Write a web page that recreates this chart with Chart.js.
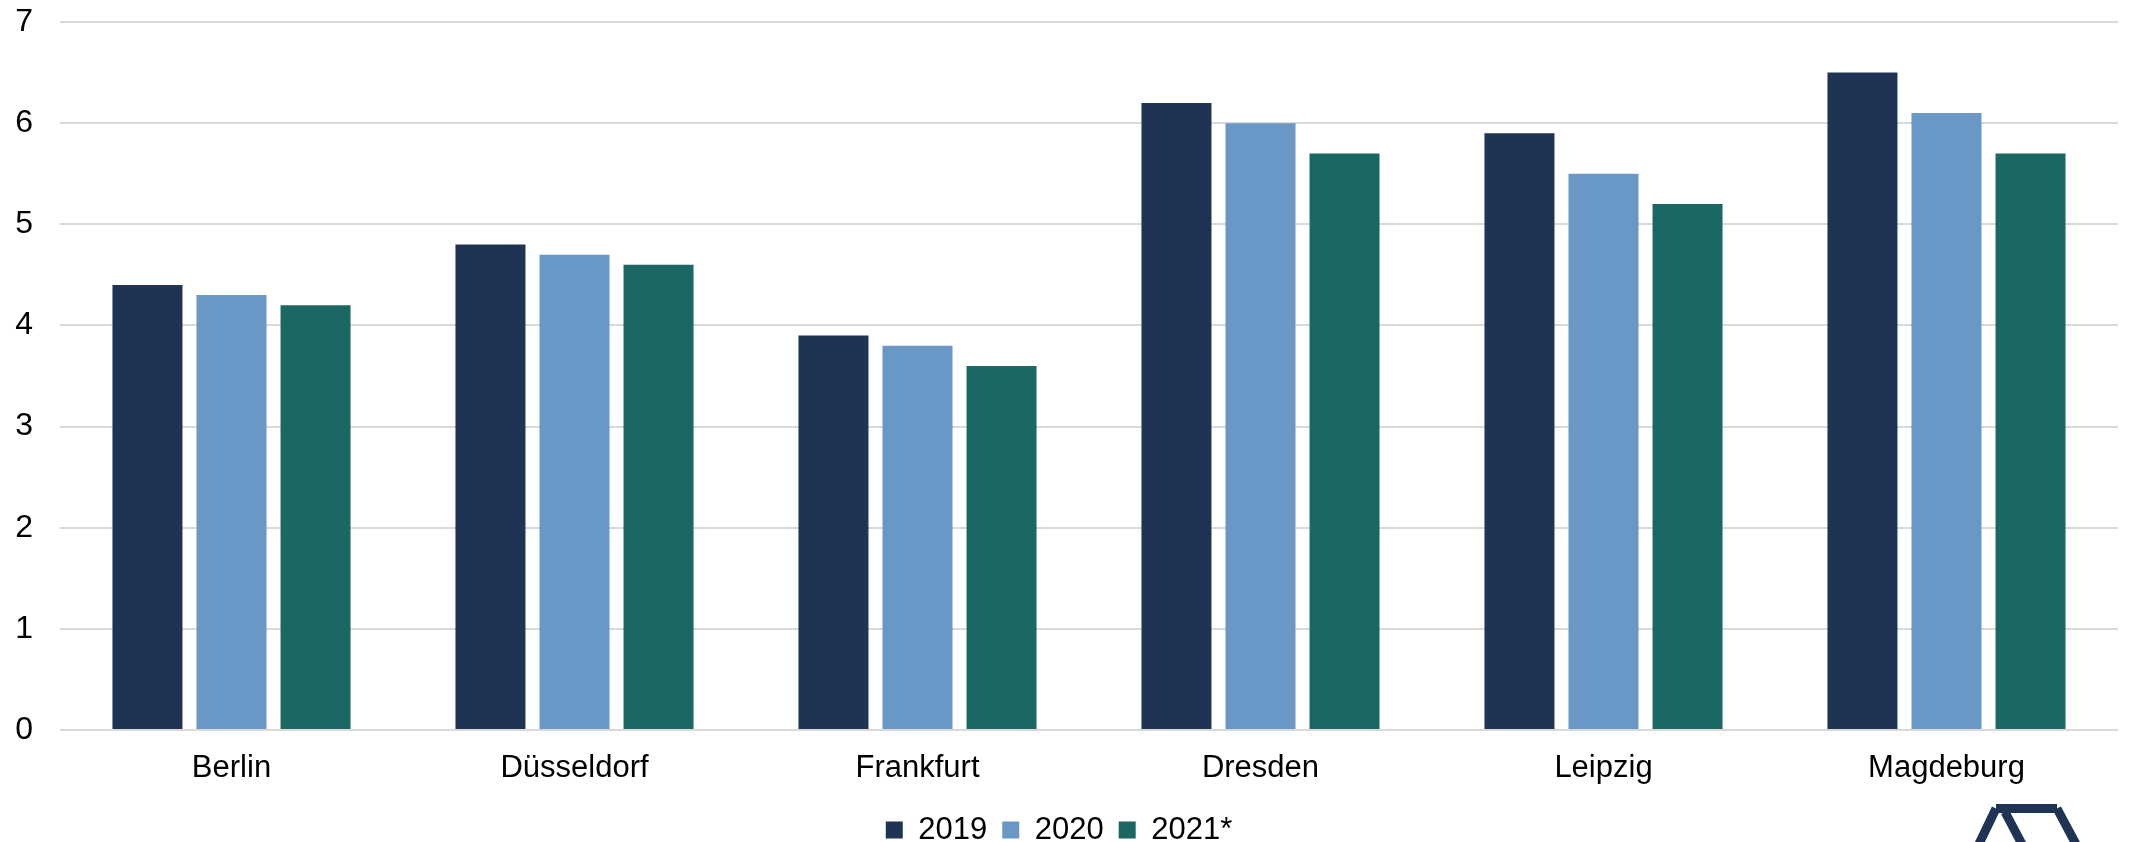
<!DOCTYPE html>
<html>
<head>
<meta charset="utf-8">
<script src="https://cdn.jsdelivr.net/npm/chart.js@4"></script>
<style>
  html, body { margin: 0; padding: 0; background: #fff; overflow: hidden; }
  #wrap { position: relative; width: 2129px; height: 842px; }
  #logo { position: absolute; left: 1970px; top: 804px; }
</style>
</head>
<body>
<div id="wrap">
  <canvas id="chartCities"></canvas>
  <svg id="logo" width="120" height="38" viewBox="0 0 120 38">
    <path d="M26 4.5 L87 4.5 M26 4.5 L8 42 M35 8 L53 42 M87 4.5 L107 42" stroke="#1F3354" stroke-width="9" fill="none"/>
  </svg>
</div>
<script>
// ── Data ─────────────────────────────────
const cities = ['Berlin', 'Düsseldorf', 'Frankfurt', 'Dresden', 'Leipzig', 'Magdeburg'];
const values2019 = [4.4, 4.8, 3.9, 6.2, 5.9, 6.5];
const values2020 = [4.3, 4.7, 3.8, 6.0, 5.5, 6.1];
const values2021 = [4.2, 4.6, 3.6, 5.7, 5.2, 5.7];
const seriesLabels = ['2019', '2020', '2021*'];

const navy = '#1F3354';
const lightBlue = '#6997C6';
const teal = '#1B6763';
const gridColor = '#D9D9D9';

Chart.defaults.font.family = "'Liberation Sans', Arial, sans-serif";
Chart.defaults.font.size = 31;
Chart.defaults.color = '#000';

const ctx = document.getElementById('chartCities');
new Chart(ctx, {
    type: 'bar',
    data: {
        labels: cities,
        datasets: [
            { label: seriesLabels[0], data: values2019, backgroundColor: navy },
            { label: seriesLabels[1], data: values2020, backgroundColor: lightBlue },
            { label: seriesLabels[2], data: values2021, backgroundColor: teal }
        ]
    },
    options: {
        responsive: true, maintainAspectRatio: false, animation: false,
        devicePixelRatio: 1,
        categoryPercentage: 0.735, barPercentage: 0.833,
        layout: { padding: { top: 22, right: 11, bottom: -13.5, left: 0 } },
        plugins: {
            legend: {
                position: 'bottom',
                labels: { boxWidth: 17, boxHeight: 17, padding: 15, color: '#000', font: { size: 31 } }
            },
            tooltip: { enabled: false }
        },
        scales: {
            x: {
                grid: { display: false, drawTicks: false },
                border: { display: false },
                ticks: { padding: 6.5, color: '#000', font: { size: 31, lineHeight: 2.03 } },
                afterFit: (scale) => { scale.height = 69.5; }
            },
            y: {
                min: 0, max: 7,
                grid: { color: gridColor, lineWidth: 2, drawTicks: false },
                border: { display: false },
                ticks: { stepSize: 1, padding: 27, color: '#000', font: { size: 32 } },
                afterFit: (scale) => {
                    scale.width = 60;
                    scale.paddingTop = 0;
                    scale.paddingBottom = 0;
                }
            }
        }
    }
});
</script>
</body>
</html>
